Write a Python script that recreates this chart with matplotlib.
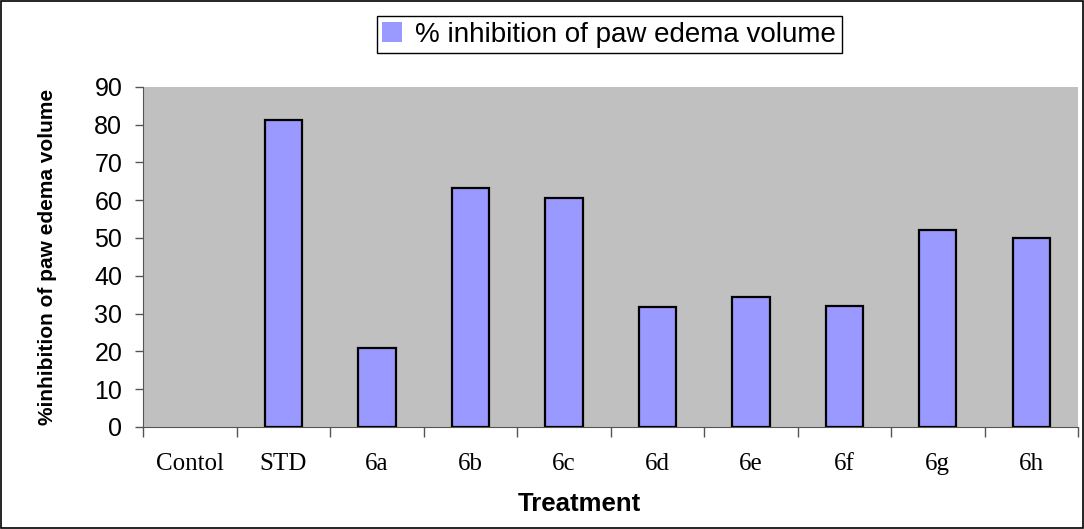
import matplotlib.pyplot as plt
import numpy as np
from matplotlib.patches import Rectangle

treatments = ['Contol', 'STD', '6a', '6b', '6c', '6d', '6e', '6f', '6g', '6h']
inhibition = [0, 81.2, 20.9, 63.1, 60.5, 31.6, 34.4, 32.1, 52.0, 50.0]

fig = plt.figure(figsize=(10.84, 5.29), dpi=100)
ax = fig.add_axes([0.132, 0.193, 0.8625, 0.643])

x = np.arange(len(treatments))
bars = ax.bar(x, inhibition, width=0.4, color='#9999ff', edgecolor='black',
              linewidth=1.6, label='% inhibition of paw edema volume', zorder=3)
for b, v in zip(bars, inhibition):
    if v == 0:
        b.set_linewidth(0)

ax.set_facecolor('#c0c0c0')
ax.set_xlim(-0.5, len(treatments) - 0.5)
ax.set_ylim(0, 90)
ax.set_yticks(range(0, 91, 10))
ax.tick_params(axis='y', labelsize=18, length=6, width=1, color='#555555', pad=9)
for lab in ax.get_yticklabels():
    lab.set_family('Liberation Sans')

# category boundaries get the tick marks, labels sit in the middle
ax.set_xticks(np.arange(-0.5, len(treatments), 1.0))
ax.set_xticklabels([])
ax.set_xticks(x, minor=True)
ax.set_xticklabels(treatments, minor=True, family='Liberation Serif', fontsize=18)
ax.tick_params(axis='x', which='major', length=7, width=1, color='#555555')
ax.tick_params(axis='x', which='minor', length=0, pad=19)

for side in ['top', 'right']:
    ax.spines[side].set_visible(False)
ax.spines['left'].set_color('#555555')
ax.spines['bottom'].set_color('#555555')

ax.set_xlabel('Treatment', family='Liberation Sans', fontweight='bold', fontsize=18.5)
ax.xaxis.set_label_coords(0.467, -0.19)
ax.set_ylabel('%inhibition of paw edema volume', family='Liberation Sans',
              fontweight='bold', fontsize=15)
ax.yaxis.set_label_coords(-0.092, 0.5)

leg = fig.legend(loc='center', bbox_to_anchor=(0.562, 0.934), fancybox=False,
                 edgecolor='black', framealpha=1, handlelength=0.7, handleheight=0.7,
                 borderpad=0.2, handletextpad=0.5, prop={'family': 'Liberation Sans', 'size': 20})
leg.get_frame().set_linewidth(1.0)

fig.patches.append(Rectangle((0.001, 0.002), 0.998, 0.996, transform=fig.transFigure,
                             fill=False, edgecolor='black', linewidth=1.2))

fig.savefig('out.png', dpi=100)
